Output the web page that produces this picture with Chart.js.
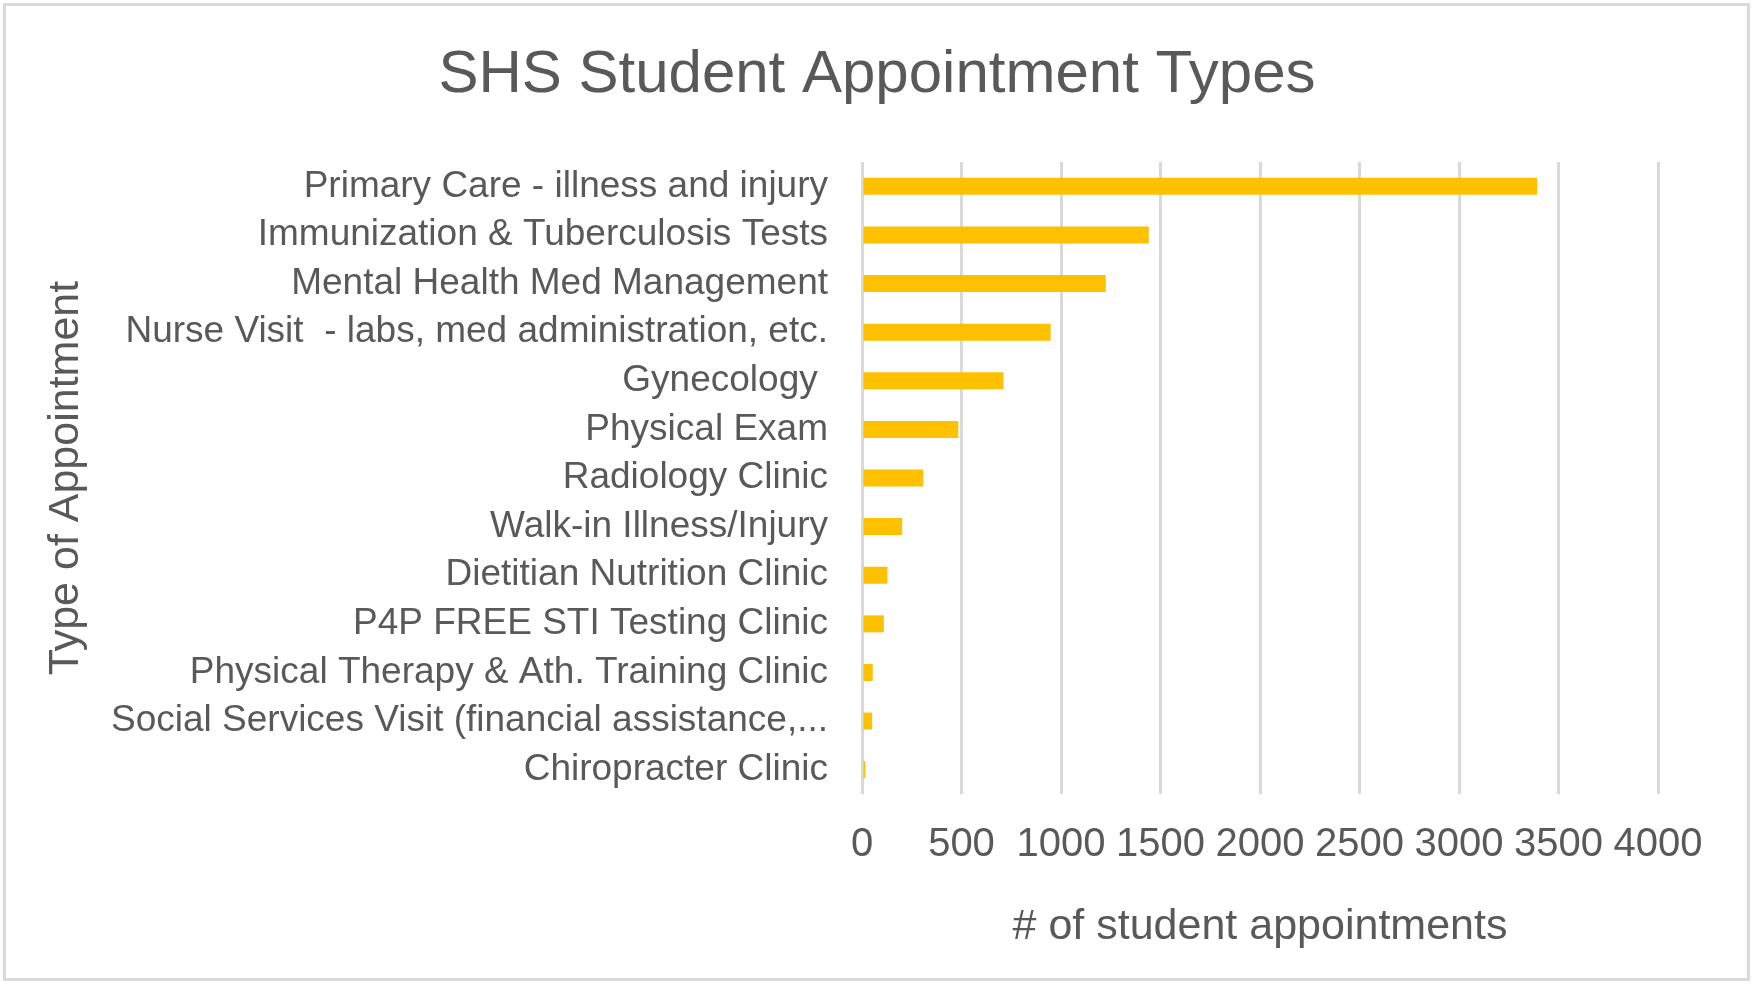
<!DOCTYPE html>
<html lang="en">
<head>
  <meta charset="UTF-8">
  <title>SHS Student Appointment Types</title>
  <script src="https://cdn.jsdelivr.net/npm/chart.js"></script>
  <style>
    body { margin: 0; background: #fff; }
    #wrap { position: relative; width: 1754px; height: 986px; }
    #frame {
      position: absolute; left: 3px; top: 3px; width: 1747px; height: 978px;
      border: 3px solid #d9d9d9; box-sizing: border-box; pointer-events: none;
    }
  </style>
</head>
<body>
<div id="wrap">
  <canvas id="grafico" width="1754" height="986"></canvas>
  <div id="frame"></div>
</div>

<script>
  const categorias = [
    "Primary Care - illness and injury",
    "Immunization & Tuberculosis Tests",
    "Mental Health Med Management",
    "Nurse Visit  - labs, med administration, etc.",
    "Gynecology ",
    "Physical Exam",
    "Radiology Clinic",
    "Walk-in Illness/Injury",
    "Dietitian Nutrition Clinic",
    "P4P FREE STI Testing Clinic",
    "Physical Therapy & Ath. Training Clinic",
    "Social Services Visit (financial assistance,...",
    "Chiropracter Clinic"
  ];
  const citas = [3393, 1441, 1225, 948, 711, 484, 308, 202, 128, 110, 54, 51, 17];
  const ticksX = [0, 500, 1000, 1500, 2000, 2500, 3000, 3500, 4000];

  const gris = "#595959";
  const fuente = "'Liberation Sans', Arial, sans-serif";

  new Chart(document.getElementById("grafico"), {
    type: "bar",
    data: {
      labels: categorias,
      datasets: [{
        data: citas,
        backgroundColor: "#FFC000",
        categoryPercentage: 1,
        barPercentage: 0.35
      }]
    },
    options: {
      indexAxis: "y",
      responsive: false,
      devicePixelRatio: 1,
      animation: false,
      layout: { padding: { left: 12, right: 12, top: 0, bottom: 0 } },
      plugins: {
        legend: { display: false },
        tooltip: { enabled: false },
        title: {
          display: true,
          text: "SHS Student Appointment Types",
          color: gris,
          font: { family: fuente, size: 60, weight: "normal" },
          padding: { top: 39, bottom: 51 }
        }
      },
      scales: {
        x: {
          min: ticksX[0],
          max: ticksX[ticksX.length - 1],
          ticks: {
            stepSize: ticksX[1] - ticksX[0],
            callback: v => String(v),
            color: gris,
            font: { family: fuente, size: 40 },
            padding: 27,
            maxRotation: 0,
            autoSkip: false
          },
          grid: { color: "#d9d9d9", lineWidth: 3, drawTicks: false },
          border: { display: false },
          title: {
            display: true,
            text: "# of student appointments",
            color: gris,
            font: { family: fuente, size: 43 },
            padding: { top: 0, bottom: 33 }
          },
          afterFit: s => { s.height = 192; }
        },
        y: {
          ticks: {
            autoSkip: false,
            color: gris,
            font: { family: fuente, size: 37 },
            padding: 34
          },
          grid: { display: false, drawTicks: false },
          border: { display: false },
          title: {
            display: true,
            text: "Type of Appointment",
            color: gris,
            font: { family: fuente, size: 43 },
            padding: { top: 28, bottom: 0 }
          },
          afterFit: s => { s.width = 850; }
        },
        // empty space on the right, so the title stays centred on the frame
        derecha: {
          type: "linear",
          position: "right",
          ticks: { display: false },
          grid: { display: false, drawTicks: false },
          border: { display: false },
          afterFit: s => { s.width = 84; }
        }
      }
    }
  });
</script>
</body>
</html>
